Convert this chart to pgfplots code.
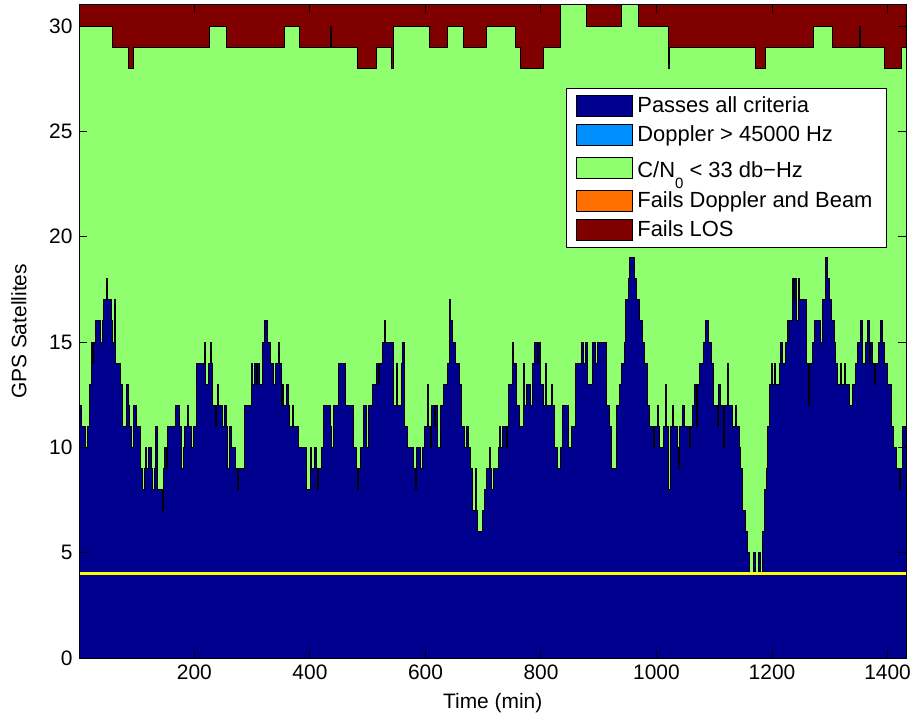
\documentclass[border=0pt]{standalone}
\usepackage{pgfplots}
\pgfplotsset{compat=1.18}
\usepackage{fontspec}
\setmainfont{Liberation Sans}
\definecolor{cpass}{RGB}{0,0,143}
\definecolor{cdop}{RGB}{0,143,255}
\definecolor{ccn}{RGB}{143,255,112}
\definecolor{cbeam}{RGB}{255,112,0}
\definecolor{clos}{RGB}{128,0,0}
\definecolor{cyel}{RGB}{255,255,0}
\begin{document}
\begin{tikzpicture}[font=\fontsize{10.5}{12.6}\selectfont]
\begin{axis}[name=ax, scale only axis, width=413.25bp, height=326.5bp,
 xmin=1, xmax=1432, ymin=0, ymax=31,
 xtick={200,400,...,1400}, ytick={0,5,...,30},
 tick align=inside, major tick length=4bp,
 /pgf/number format/assume math mode=true,
 /pgf/number format/1000 sep={},
 scaled x ticks=false,
 axis on top,
 axis line style={line width=0.5bp},
 tick style={line width=0.5bp, black},
 xlabel={Time (min)}, ylabel={GPS Satellites},
 xlabel style={at={(axis description cs:0.5,-0.069)}, anchor=center},
 ylabel style={at={(axis description cs:-0.0732,0.5)}, anchor=center},
 legend image code/.code={\draw[#1, line width=0.5bp] (0bp,-5.25bp) rectangle (28bp,5.25bp);},
 legend style={at={(0.977,0.873)}, anchor=north east, draw=black, fill=white, line width=0.5bp,
   inner xsep=5bp, inner ysep=1.9bp, row sep=1.4bp, cells={anchor=west},
   font=\fontsize{11}{13.2}\selectfont},
 legend cell align=left,
 ]
% Fails LOS (background up to 31)
\addplot[fill=clos, draw=none, forget plot] coordinates {(1,31) (1432,31)} \closedcycle;
% top of C/N0 layer
\addplot[const plot, fill=ccn, draw=black, line width=0.5bp, forget plot] coordinates {
(1,30) (58,29) (86,28) (94,29) (226,30) (255,29) (356,30) (382,29) (436,30) (438,29)
(483,28) (515,29) (542,28) (545,30) (607,29) (638,30) (666,29) (706,30) (756,29) (764,28)
(804,29) (834,31) (879,30) (939,31) (968,30) (1020,28) (1022,29) (1171,28) (1188,29)
(1271,30) (1304,29) (1352,30) (1354,29) (1395,28) (1425,29) (1432,29)} \closedcycle;
% passes all criteria
\addplot[const plot, fill=cpass, draw=black, line width=0.5bp, forget plot] coordinates {
(1,12) (4,11) (12,10) (14,11) (18,12) (19,13) (22,15) (24,14) (26,15) (29,16) (38,15) (40,16)
(42,17) (48,18) (50,17) (56,16) (58,15) (62,17) (64,14) (72,13) (75,11) (83,13) (85,12) (88,11)
(91,10) (94,12) (100,11) (107,9) (110,8) (113,9) (115,10) (117,9) (121,10) (125,9) (128,8)
(131,9) (133,11) (136,8) (144,7) (146,9) (148,10) (151,9) (153,11) (168,12) (174,11) (177,9)
(181,10) (183,11) (188,12) (190,11) (195,10) (198,11) (204,14) (218,15) (220,13) (224,14)
(227,15) (229,14) (231,12) (237,11) (239,12) (240,13) (242,12) (249,11) (252,12) (255,11)
(258,9) (261,11) (264,10) (271,9) (274,8) (277,9) (286,12) (298,14) (301,13) (304,14) (307,13)
(310,14) (313,13) (317,15) (322,16) (326,15) (332,14) (337,13) (341,14) (345,15) (347,14)
(350,12) (352,13) (355,12) (359,13) (362,12) (364,11) (369,12) (372,11) (381,10) (394,8)
(401,10) (403,9) (408,10) (411,9) (413,8) (415,9) (420,10) (424,12) (435,11) (438,10) (441,12)
(450,14) (461,12) (476,10) (481,9) (482,8) (484,9) (488,10) (493,12) (498,10) (501,12) (508,13)
(516,14) (518,13) (521,14) (526,15) (529,16) (531,15) (544,12) (549,14) (551,12) (558,14)
(561,15) (563,11) (569,10) (579,9) (583,8) (585,10) (591,9) (595,10) (599,11) (603,13) (606,11)
(608,10) (611,12) (615,11) (617,12) (621,10) (626,12) (632,13) (638,14) (641,17) (644,16)
(647,15) (652,14) (659,13) (663,11) (667,10) (671,11) (674,10) (678,9) (681,7) (686,9) (689,7)
(690,6) (699,7) (703,8) (706,9) (710,10) (712,9) (715,8) (718,9) (726,10) (729,11) (730,10)
(733,11) (740,10) (742,11) (744,13) (750,15) (752,14) (758,12) (763,11) (769,14) (772,12)
(775,13) (781,12) (785,14) (789,15) (794,14) (796,15) (800,13) (805,12) (807,14) (809,12)
(818,13) (820,12) (824,10) (828,9) (833,10) (837,12) (848,10) (852,11) (859,14) (870,15)
(873,14) (877,15) (880,13) (890,15) (894,14) (898,15) (914,12) (919,11) (922,9) (931,12)
(936,13) (939,14) (944,15) (947,17) (951,18) (953,19) (962,18) (966,17) (970,16) (975,15)
(979,14) (985,12) (988,11) (995,10) (997,11) (1002,12) (1004,11) (1006,10) (1012,11) (1015,13)
(1018,11) (1021,8) (1024,11) (1027,12) (1030,11) (1036,10) (1038,9) (1040,11) (1045,12)
(1048,11) (1057,10) (1059,11) (1063,12) (1066,13) (1069,11) (1071,13) (1075,14) (1081,15)
(1084,16) (1090,15) (1095,14) (1099,12) (1105,11) (1108,13) (1111,12) (1116,10) (1118,12)
(1123,14) (1125,12) (1131,11) (1137,12) (1139,11) (1144,10) (1146,9) (1149,7) (1154,6)
(1157,5) (1161,4) (1168,5) (1171,4) (1177,5) (1180,4) (1184,6) (1187,8) (1190,9) (1193,11)
(1196,13) (1199,14) (1201,13) (1204,14) (1206,13) (1213,14) (1215,15) (1218,14) (1224,15)
(1227,16) (1230,15) (1231,16) (1235,18) (1237,17) (1239,18) (1242,17) (1243,16) (1245,18)
(1248,17) (1260,14) (1263,12) (1265,14) (1270,15) (1273,16) (1284,15) (1287,17) (1293,19)
(1296,18) (1299,17) (1303,16) (1308,15) (1310,14) (1313,13) (1318,14) (1320,13) (1326,14)
(1328,13) (1334,12) (1339,13) (1345,14) (1348,15) (1354,16) (1356,14) (1361,15) (1365,16)
(1368,14) (1371,15) (1374,14) (1378,13) (1380,14) (1384,15) (1387,16) (1392,15) (1395,14)
(1400,13) (1407,11) (1411,10) (1416,9) (1420,8) (1423,9) (1426,11) (1432,11)} \closedcycle;
% threshold line
\addplot[cyel, line width=1.5bp, forget plot] coordinates {(1,4) (1432,4)};
\addlegendimage{fill=cpass, draw=black}
\addlegendimage{fill=cdop, draw=black}
\addlegendimage{fill=ccn, draw=black}
\addlegendimage{fill=cbeam, draw=black}
\addlegendimage{fill=clos, draw=black}
\legend{Passes all criteria, Doppler > 45000 Hz,
  {\raisebox{0pt}[\dimexpr\height+3bp][\dimexpr\depth+1.5bp]{C/N\raisebox{-5.6bp}{\fontsize{7.5}{8}\selectfont 0} < 33 db−Hz}},
  Fails Doppler and Beam, Fails LOS}
\end{axis}
\pgfresetboundingbox
\path[use as bounding box] ([xshift=-39.75bp,yshift=-32.5bp]ax.south west) rectangle ([xshift=4.5bp,yshift=2.5bp]ax.north east);
\end{tikzpicture}
\end{document}
